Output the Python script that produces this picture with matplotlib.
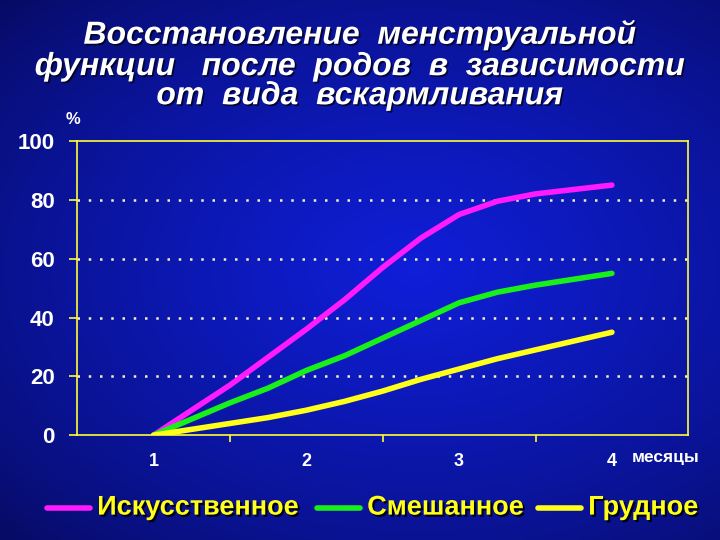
import numpy as np
import matplotlib.pyplot as plt
import matplotlib.patheffects as pe

# Data (months, % of women with restored menstrual function), read at quarter months
months = [1, 1.25, 1.5, 1.75, 2, 2.25, 2.5, 2.75, 3, 3.25, 3.5, 3.75, 4]
artificial = [0, 8.5, 17, 26.5, 36, 46, 57, 67, 75, 79.5, 82, 83.5, 85]
mixed = [0, 5.5, 11, 16, 22, 27, 33, 39, 45, 48.6, 51, 53, 55]
breast = [0, 2, 4, 6, 8.5, 11.5, 15, 19, 22.5, 26, 29, 32, 35]
series_names = ["Искусственное", "Смешанное", "Грудное"]
series_colors = ["#ff1aff", "#19f019", "#ffff1a"]
x_labels = ["1", "2", "3", "4"]
y_ticks = [0, 20, 40, 60, 80, 100]
title_lines = ["Восстановление  менструальной",
               "функции   после  родов  в  зависимости",
               "от  вида  вскармливания"]

fig = plt.figure(figsize=(7.2, 5.4), dpi=100)

# background gradient
bg = fig.add_axes([0, 0, 1, 1], zorder=-10)
yy, xx = np.mgrid[0:1:300j, 0:1:400j]
r = np.sqrt(((xx - 0.58) / 1.0) ** 2 + ((yy - 0.5) / 0.9) ** 2)
t = np.clip(1 - r / 0.85, 0, 1)
dark = np.array([0.02, 0.03, 0.32])
light = np.array([0.06, 0.12, 0.85])
img = dark + (light - dark) * t[..., None] ** 0.7
bg.imshow(img, extent=[0, 1, 0, 1], aspect="auto", origin="lower")
bg.set_axis_off()

ax = fig.add_axes([0.107, 0.194, 0.849, 0.545])
ax.set_facecolor("none")

for vals, c in zip([artificial, mixed, breast], series_colors):
    ax.plot(months, vals, color=c, lw=4, solid_capstyle="round",
            solid_joinstyle="round", zorder=3)

ax.set_xlim(0.5, 4.5)
ax.set_ylim(0, 100)

for y in y_ticks[1:-1]:
    ax.axhline(y, color="#f4f0c8", lw=1.8, ls=(0, (1, 3.5)), zorder=1)

for s in ax.spines.values():
    s.set_color("#ffff33")
    s.set_linewidth(1.2)

ax.set_yticks(y_ticks)
ax.set_yticklabels([str(v) for v in y_ticks])
ax.set_xticks([1, 2, 3, 4])
ax.set_xticklabels(x_labels)
ax.set_xticks([1.5, 2.5, 3.5], minor=True)
ax.tick_params(axis="y", colors="#ffff33", labelcolor="white", length=6,
               width=1.2, labelsize=16, pad=10)
ax.tick_params(axis="x", which="major", length=0, labelcolor="white",
               labelsize=13, pad=13)
ax.tick_params(axis="x", which="minor", colors="#ffff33", length=5, width=1.2)
for lab in ax.get_yticklabels() + ax.get_xticklabels():
    lab.set_fontweight("bold")
    lab.set_family(["Liberation Sans", "DejaVu Sans"])

fig.text(0.102, 0.778, "%", color="white", fontsize=12, fontweight="bold",
         ha="center", va="center", family=["Liberation Sans", "DejaVu Sans"])
fig.text(0.877, 0.152, "месяцы", color="white", fontsize=12.5, fontweight="bold",
         ha="left", va="center", family=["Liberation Sans", "DejaVu Sans"])

# title, one text per line
for line, yb in zip(title_lines, [0.919, 0.861, 0.807]):
    fig.text(0.5, yb, line, color="white", fontsize=23, fontweight="bold",
             fontstyle="italic", ha="center", va="baseline",
             family=["Liberation Sans", "DejaVu Sans"],
             path_effects=[pe.withSimplePatchShadow(offset=(1.2, -1.2), shadow_rgbFace="black", alpha=0.7)])

# legend
leg_x = [0.065, 0.44, 0.747]
for name, c, lx in zip(series_names, series_colors, leg_x):
    fig.add_artist(plt.Line2D([lx, lx + 0.06], [0.06, 0.06], color=c, lw=4,
                              solid_capstyle="round", transform=fig.transFigure))
    fig.text(lx + 0.07, 0.06, name, color="#ffff1a", fontsize=19.5,
             fontweight="bold", ha="left", va="center",
             family=["Liberation Sans", "DejaVu Sans"],
             path_effects=[pe.withSimplePatchShadow(offset=(1.5, -1.5), shadow_rgbFace="black", alpha=0.9)])

fig.savefig("out.png", dpi=100)
